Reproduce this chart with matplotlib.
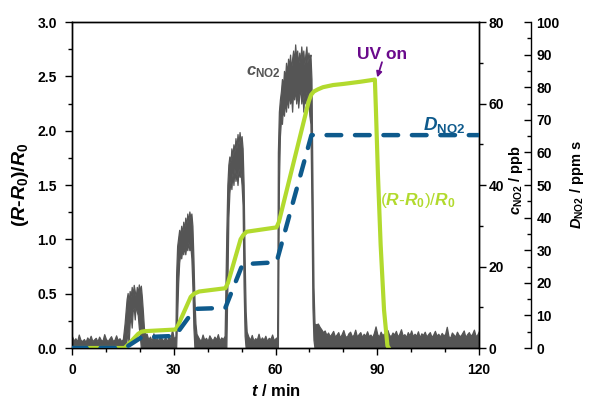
import numpy as np
import matplotlib
matplotlib.use('Agg')
import matplotlib.pyplot as plt
from matplotlib.ticker import MultipleLocator

plt.rcParams['font.family'] = ['Liberation Sans', 'DejaVu Sans']
plt.rcParams['font.weight'] = 'bold'
plt.rcParams['axes.labelweight'] = 'bold'
plt.rcParams['mathtext.fontset'] = 'custom'
plt.rcParams['mathtext.rm'] = 'Liberation Sans:bold'
plt.rcParams['mathtext.it'] = 'Liberation Sans:italic:bold'
plt.rcParams['mathtext.bf'] = 'Liberation Sans:bold'
plt.rcParams['mathtext.sf'] = 'Liberation Sans:italic'
plt.rcParams['mathtext.tt'] = 'Liberation Sans'

GRAY = '#555555'
GREEN = '#B2DA2E'
BLUE = '#0E5A8C'
PURPLE = '#6A0A8C'

# ---------------- data ----------------
# c_NO2 (ppb): baseline noise segments sampled every 0.5 min
base_step = 0.5
base_a_t0 = 0.0
base_a = [2.9, 1.8, 2.4, 1.6, 3.3, 2.0, 1.7, 2.2, 1.5, 2.6, 1.9, 3.0, 1.7, 2.1, 2.5, 1.6,
          2.8, 2.0, 1.8, 3.4, 2.2, 1.7, 2.3, 2.9, 1.8, 2.0, 3.1, 1.9, 2.4, 1.7, 2.2]
base_b_t0 = 22.0
base_b = [3.5, 2.1, 2.8, 1.7, 3.6, 2.0, 2.4, 1.8, 3.2, 2.2, 1.9, 2.7, 1.6, 3.0, 2.1, 4.6, 2.3, 2.9]
base_c_t0 = 37.0
base_c = [3.0, 2.2, 1.8, 3.3, 2.0, 2.5, 1.7, 3.1, 2.3, 1.9, 2.8, 2.1, 3.4, 1.8, 2.6, 2.2, 3.0]
base_d_t0 = 52.0
base_d = [2.8, 2.0, 3.2, 1.8, 2.4, 2.1, 3.5, 1.9, 2.6, 2.0, 3.0, 1.7, 2.5, 2.2, 3.3, 1.9, 2.4, 2.7]
base_e_t0 = 72.0
base_e = [5.8, 6.0, 5.2, 4.6, 3.9, 4.3, 3.2, 3.8, 2.9, 3.5,
          4.2, 2.8, 3.3, 3.9, 2.6, 3.4, 4.4, 3.0, 2.7, 3.6,
          4.0, 2.9, 3.2, 4.5, 2.8, 3.4, 3.9, 2.7, 3.5, 3.0,
          4.1, 2.9, 3.3, 2.6, 3.7, 5.3, 3.4, 2.8, 4.0, 3.1,
          3.6, 2.7, 4.4, 3.2, 2.9, 3.8, 3.3, 4.2, 2.8, 3.5,
          4.6, 3.0, 3.4, 2.7, 3.9, 3.1, 4.3, 2.9, 3.5, 3.0,
          4.1, 2.6, 3.6, 3.2, 4.0, 2.8, 3.4, 3.9, 2.7, 3.3,
          4.2, 3.0, 3.5, 2.8, 3.7, 3.1, 3.4, 5.2, 2.9, 2.5,
          3.8, 3.3, 2.8, 4.0, 3.2, 2.9, 3.6, 4.3, 2.7, 3.4,
          3.9, 3.0, 3.5, 4.5, 2.9, 3.3, 4.2]

# NO2 pulses (ppb): time, lower and upper envelope of the noisy trace
p1_t = [15.5, 15.8, 16.1, 16.4, 16.7, 17.0, 17.3, 17.6, 17.9, 18.2, 18.5, 18.8, 19.1,
        19.4, 19.7, 20.0, 20.3, 20.6, 20.9, 21.2, 21.5]
p1_hi = [6, 9, 12, 13.5, 11.5, 14, 12.5, 15, 13, 15.5, 14, 12.5, 15, 13.5, 15.6, 14,
         15.3, 12.5, 9, 5, 3.5]
p1_lo = [0, 0, 2, 4, 1, 6, 8, 5, 9, 10, 7, 11, 9, 8, 5, 3, 0, 0, 0, 0, 0]

p2_t = [30.7, 31.0, 31.3, 31.6, 31.9, 32.2, 32.5, 32.8, 33.1, 33.4, 33.7, 34.0, 34.3,
        34.6, 34.9, 35.2, 35.5, 35.8, 36.1, 36.4, 36.7]
p2_hi = [18, 25, 27, 29, 27.5, 30, 28, 31, 29, 32, 30, 33, 31, 33.5, 32, 33, 30, 22,
         12, 6, 3.5]
p2_lo = [0, 8, 16, 21, 23, 22, 24, 23, 25, 23, 25, 24, 26, 24, 25, 22, 15, 5, 0, 0, 0]

p3_t = [45.5, 45.8, 46.1, 46.4, 46.7, 47.0, 47.3, 47.6, 47.9, 48.2, 48.5, 48.8, 49.1,
        49.4, 49.7, 50.0, 50.3, 50.6, 50.9, 51.2, 51.5]
p3_hi = [28, 40, 45, 47, 45.5, 49, 47, 50, 48, 51.5, 49, 52.5, 50, 53, 50.5, 52, 49,
         40, 22, 9, 4]
p3_lo = [0, 15, 32, 38, 41, 39, 43, 40, 44, 41, 43, 40, 44, 42, 43, 40, 35, 15, 3, 0, 0]

p4_t = [60.7, 61.0, 61.3, 61.6, 61.9, 62.2, 62.5, 62.8, 63.1, 63.4, 63.7, 64.0, 64.3,
        64.6, 64.9, 65.2, 65.5, 65.8, 66.1, 66.4, 66.7, 67.0, 67.3, 67.6, 67.9, 68.2,
        68.5, 68.8, 69.1, 69.4, 69.7, 70.0, 70.3, 70.6, 70.9, 71.2, 71.5]
p4_hi = [48, 58, 61, 63, 66, 64, 68, 66, 70, 67, 71, 69, 72, 68, 71, 73, 70, 74.5, 71,
         73, 69, 72.5, 70, 74, 71, 73, 69.5, 72, 74, 70, 72.5, 71, 72, 66, 40, 15, 6]
p4_lo = [0, 40, 52, 56, 55, 59, 57, 61, 58, 62, 59, 63, 60, 62, 58, 63, 61, 64, 60, 63,
         59, 62, 64, 60, 63, 58, 62, 60, 63, 59, 61, 57, 55, 35, 10, 2, 0]

# sensor response (R-R0)/R0
resp_t = [0, 15.5, 16.5, 19.5, 20.5, 21.5, 30.5, 31.3, 35.0, 36.0, 37.5, 45.2, 46.0,
          49.7, 50.5, 51.5, 60.3, 61.0, 69.8, 70.5, 71.3, 72.5, 74, 77, 80, 85, 89.3,
          89.6, 90.2, 91.0, 92.0, 93.0, 93.4]
resp_v = [0, 0, 0.03, 0.13, 0.15, 0.155, 0.17, 0.21, 0.47, 0.50, 0.52, 0.55, 0.60,
          1.00, 1.04, 1.07, 1.11, 1.16, 2.27, 2.33, 2.36, 2.38, 2.40, 2.42, 2.43, 2.45,
          2.47, 2.2, 1.6, 0.95, 0.35, 0.02, 0]

# NO2 dose D (ppm s)
dose_t = [0, 15.6, 20.5, 30.4, 36.2, 45.2, 50.3, 60.3, 70.6, 120]
dose_v = [0, 0, 3.3, 3.7, 12.0, 12.3, 25.7, 26.3, 65.3, 65.3]

# ---------------- build gray trace ----------------
def seg(t0, vals):
    t = t0 + base_step * np.arange(len(vals))
    return list(t), [0.0] * len(vals), list(vals)

parts = [seg(base_a_t0, base_a), (p1_t, p1_lo, p1_hi),
         seg(base_b_t0, base_b), (p2_t, p2_lo, p2_hi),
         seg(base_c_t0, base_c), (p3_t, p3_lo, p3_hi),
         seg(base_d_t0, base_d), (p4_t, p4_lo, p4_hi),
         seg(base_e_t0, base_e)]
g_t = np.concatenate([np.asarray(p[0], float) for p in parts])
g_lo = np.concatenate([np.asarray(p[1], float) for p in parts])
g_hi = np.concatenate([np.asarray(p[2], float) for p in parts])

# ---------------- figure ----------------
fig = plt.figure(figsize=(5.94, 3.99), dpi=100)
ax = fig.add_axes([72/594, 51/399, 407/594, 326/399])
ax2 = ax.twinx()
ax3 = ax.twinx()

ax2.set_zorder(1)
ax.set_zorder(2)
ax3.set_zorder(3)
for a in (ax, ax2, ax3):
    a.patch.set_visible(False)

# gray concentration trace
ax2.fill_between(g_t, g_lo, g_hi, color=GRAY, linewidth=0.9, edgecolor=GRAY)
ax2.set_ylim(0, 80)

# response
ax.plot(resp_t, resp_v, color=GREEN, lw=3.0, solid_joinstyle='round')
ax.set_xlim(0, 120)
ax.set_ylim(0, 3.0)

# dose
ax3.plot(dose_t, dose_v, color=BLUE, lw=3.2, linestyle=(0, (3.3, 3.1)),
         dash_capstyle='round')
ax3.set_ylim(0, 100)

# spines & ticks
for a in (ax, ax2, ax3):
    for s in a.spines.values():
        s.set_linewidth(1.0)

ax.xaxis.set_major_locator(MultipleLocator(30))
ax.xaxis.set_minor_locator(MultipleLocator(10))
ax.yaxis.set_major_locator(MultipleLocator(0.5))
ax.yaxis.set_minor_locator(MultipleLocator(0.25))
ax.tick_params(axis='both', which='both', direction='out', top=False, right=False,
               labelsize=10, width=1.0)
ax.tick_params(which='major', length=5, pad=6)
ax.tick_params(which='minor', length=3)
ax.set_yticks(np.arange(0, 3.01, 0.5))
ax.set_yticklabels([f'{v:.1f}' for v in np.arange(0, 3.01, 0.5)])

ax2.yaxis.set_major_locator(MultipleLocator(20))
ax2.yaxis.set_minor_locator(MultipleLocator(10))
ax2.tick_params(axis='y', which='both', direction='out', labelsize=10, width=1.0, pad=2)
ax2.tick_params(which='major', length=5)
ax2.tick_params(which='minor', length=3)

ax3.spines['right'].set_position(('axes', (531 - 72) / 407))
for k in ('left', 'top', 'bottom'):
    ax3.spines[k].set_visible(False)
ax3.yaxis.set_major_locator(MultipleLocator(10))
ax3.yaxis.set_minor_locator(MultipleLocator(5))
ax3.tick_params(axis='y', which='both', direction='in', labelsize=10, width=1.0, pad=4)
ax3.tick_params(which='major', length=5)
ax3.tick_params(which='minor', length=3)

# axis labels
ax.set_xlabel(r'$t$ / min', fontsize=12, fontweight='bold', labelpad=4)
ax.set_ylabel(r'($R$-$R_0$)/$R_0$', fontsize=14, fontweight='bold')
ax.yaxis.set_label_coords((31 - 72) / 407, 0.5)
ax2.set_ylabel(r'$c_\mathrm{NO2}$ / ppb', fontsize=10.5, fontweight='bold')
ax2.yaxis.set_label_coords((507 - 72) / 407, (348 - 180) / 326)
ax3.set_ylabel(r'$D_\mathrm{NO2}$ / ppm s', fontsize=10.5, fontweight='bold')
ax3.yaxis.set_label_coords((568 - 72) / 407, (348 - 185) / 326)

# annotations
ax.text(61.5, 2.54, r'$c_\mathrm{NO2}$', color=GRAY, fontsize=12, ha='right', va='center')
ax.text(91.3, 2.70, 'UV on', color=PURPLE, fontsize=12.5, fontweight='bold',
        ha='center', va='center')
ax.annotate('', xy=(90.0, 2.49), xytext=(91.4, 2.63),
            arrowprops=dict(arrowstyle='-|>', color=PURPLE, lw=1.3, mutation_scale=8,
                            shrinkA=0, shrinkB=0))
ax.text(109.7, 2.05, r'$D_\mathrm{NO2}$', color=BLUE, fontsize=13.5, ha='center', va='center')
ax.text(102.1, 1.36, r'($\mathsf{R}$-$\mathsf{R}_\mathtt{0}$)/$\mathsf{R}_\mathtt{0}$',
        color=GREEN, fontsize=12.5, fontweight='normal', ha='center', va='center')

fig.savefig('out.png', dpi=100)
